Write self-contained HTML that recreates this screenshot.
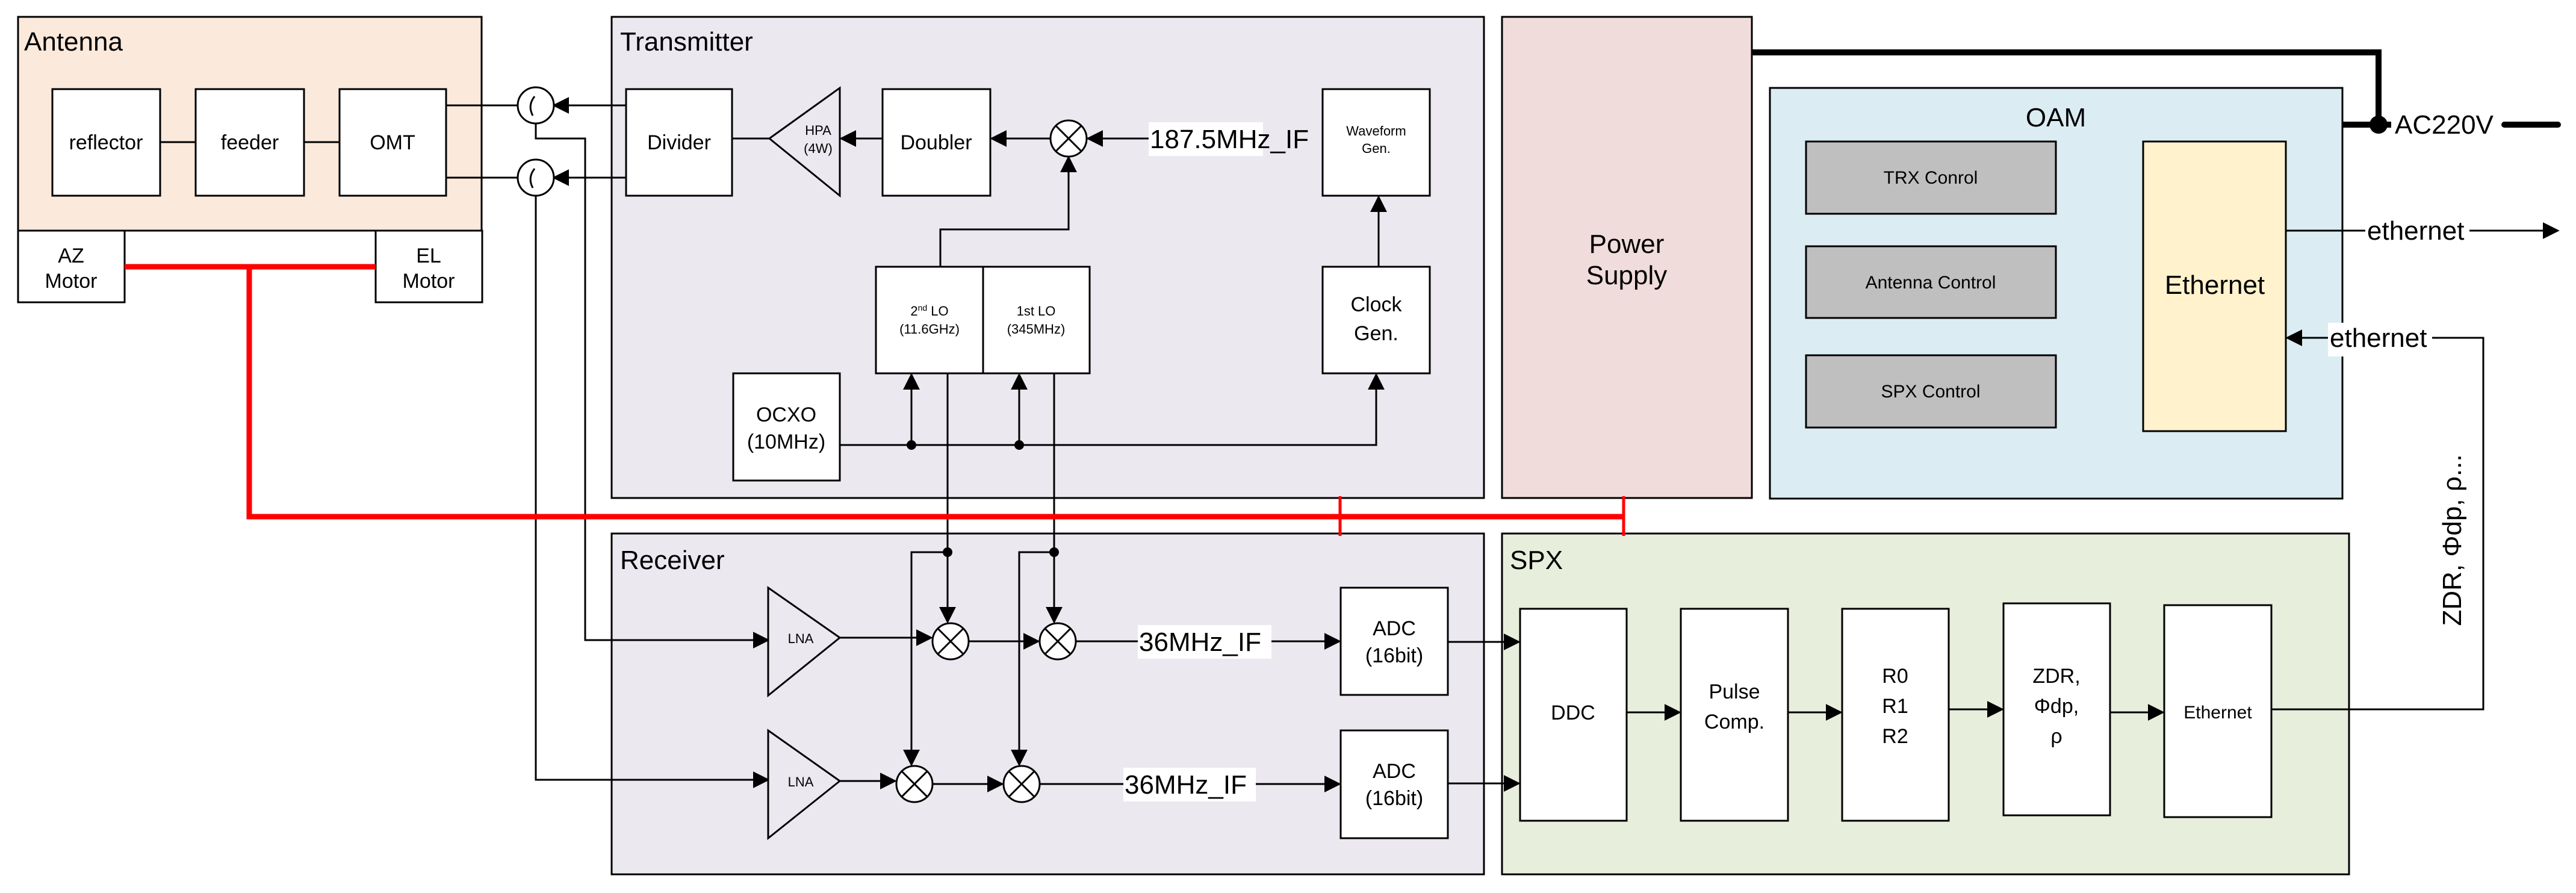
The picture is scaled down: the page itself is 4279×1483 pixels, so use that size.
<!DOCTYPE html>
<html><head><meta charset="utf-8"><style>
html,body{margin:0;padding:0;background:#fff;}
svg{display:block;}
text{font-family:"Liberation Sans",sans-serif;fill:#000;}
</style></head><body>
<svg width="4279" height="1483" viewBox="0 0 4279 1483" xmlns="http://www.w3.org/2000/svg">
<defs>
<marker id="a" viewBox="0 0 10 10" refX="9" refY="5" markerWidth="28" markerHeight="28" markerUnits="userSpaceOnUse" orient="auto"><path d="M0,0 L10,5 L0,10 z" fill="#000"/></marker>
</defs>
<g stroke="#000" stroke-width="3">
<rect x="30" y="28" width="770" height="355" fill="#fbe9dc"/>
<rect x="30" y="383" width="177" height="119" fill="#fff"/>
<rect x="624" y="383" width="177" height="119" fill="#fff"/>
<rect x="1016" y="28" width="1449" height="799" fill="#ebe8f0"/>
<rect x="2495" y="28" width="415" height="799" fill="#f0dcdb"/>
<rect x="2940" y="146" width="951" height="682" fill="#dbedf3"/>
<rect x="1016" y="886" width="1449" height="566" fill="#ebe8f0"/>
<rect x="2495" y="886" width="1407" height="566" fill="#e8eedc"/>
<rect x="87" y="148" width="179" height="177" fill="#fff"/>
<rect x="325" y="148" width="180" height="177" fill="#fff"/>
<rect x="564" y="148" width="177" height="177" fill="#fff"/>
<rect x="1040" y="148" width="176" height="177" fill="#fff"/>
<rect x="1466" y="148" width="179" height="177" fill="#fff"/>
<rect x="2197" y="148" width="178" height="177" fill="#fff"/>
<rect x="2197" y="443" width="178" height="177" fill="#fff"/>
<rect x="1455" y="443" width="178" height="177" fill="#fff"/>
<rect x="1633" y="443" width="177" height="177" fill="#fff"/>
<rect x="1218" y="620" width="177" height="178" fill="#fff"/>
<rect x="2227" y="976" width="178" height="178" fill="#fff"/>
<rect x="2227" y="1213" width="178" height="179" fill="#fff"/>
<rect x="2525" y="1011" width="177" height="352" fill="#fff"/>
<rect x="2792" y="1011" width="178" height="352" fill="#fff"/>
<rect x="3060" y="1011" width="177" height="352" fill="#fff"/>
<rect x="3328" y="1002" width="177" height="352" fill="#fff"/>
<rect x="3595" y="1005" width="178" height="352" fill="#fff"/>
<rect x="3000" y="235" width="415" height="120" fill="#bfbfbf"/>
<rect x="3000" y="409" width="415" height="119" fill="#bfbfbf"/>
<rect x="3000" y="590" width="415" height="120" fill="#bfbfbf"/>
<rect x="3560" y="235" width="237" height="481" fill="#fff2cc"/>
</g>
<g stroke="#000" stroke-width="3" fill="none">
<line x1="266" y1="236" x2="325" y2="236"/>
<line x1="505" y1="236" x2="564" y2="236"/>
<line x1="741" y1="175" x2="860" y2="175"/>
<line x1="741" y1="295" x2="860" y2="295"/>
<line x1="1040" y1="175" x2="920" y2="175" marker-end="url(#a)"/>
<line x1="1040" y1="295" x2="920" y2="295" marker-end="url(#a)"/>
<polyline points="890,205 890,230 972,230 972,1063 1276,1063" marker-end="url(#a)"/>
<polyline points="890,325 890,1295 1276,1295" marker-end="url(#a)"/>
<line x1="1216" y1="230" x2="1278" y2="230"/>
<line x1="1466" y1="230" x2="1397" y2="230" marker-end="url(#a)"/>
<line x1="1745" y1="230" x2="1647" y2="230" marker-end="url(#a)"/>
<line x1="1908" y1="230" x2="1807" y2="230" marker-end="url(#a)"/>
<polyline points="1562,443 1562,381 1775,381 1775,261" marker-end="url(#a)"/>
<line x1="2290" y1="443" x2="2290" y2="327" marker-end="url(#a)"/>
<polyline points="1395,739 2286,739 2286,622" marker-end="url(#a)"/>
<line x1="1514" y1="739" x2="1514" y2="622" marker-end="url(#a)"/>
<line x1="1693" y1="739" x2="1693" y2="622" marker-end="url(#a)"/>
<line x1="1574" y1="620" x2="1574" y2="1033" marker-end="url(#a)"/>
<line x1="1751" y1="620" x2="1751" y2="1033" marker-end="url(#a)"/>
<polyline points="1574,917 1514,917 1514,1270" marker-end="url(#a)"/>
<polyline points="1751,917 1693,917 1693,1270" marker-end="url(#a)"/>
<line x1="1395" y1="1059" x2="1547" y2="1059" marker-end="url(#a)"/>
<line x1="1609" y1="1065" x2="1725" y2="1065" marker-end="url(#a)"/>
<line x1="1787" y1="1065" x2="2225" y2="1065" marker-end="url(#a)"/>
<line x1="1395" y1="1297" x2="1487" y2="1297" marker-end="url(#a)"/>
<line x1="1549" y1="1302" x2="1665" y2="1302" marker-end="url(#a)"/>
<line x1="1727" y1="1302" x2="2225" y2="1302" marker-end="url(#a)"/>
<line x1="2405" y1="1066" x2="2523" y2="1066" marker-end="url(#a)"/>
<line x1="2405" y1="1301" x2="2523" y2="1301" marker-end="url(#a)"/>
<line x1="2702" y1="1183" x2="2790" y2="1183" marker-end="url(#a)"/>
<line x1="2970" y1="1183" x2="3058" y2="1183" marker-end="url(#a)"/>
<line x1="3237" y1="1178" x2="3326" y2="1178" marker-end="url(#a)"/>
<line x1="3505" y1="1183" x2="3593" y2="1183" marker-end="url(#a)"/>
<polyline points="3773,1178 4125,1178 4125,561 3799,561" marker-end="url(#a)"/>
<line x1="3797" y1="383" x2="4249" y2="383" marker-end="url(#a)"/>
</g>
<g stroke="#000" stroke-width="3" fill="#fff">
<circle cx="890" cy="175" r="30"/><circle cx="890" cy="295" r="30"/>
</g>
<path d="M888,160 Q876,175 885,192 M888,280 Q876,295 885,312" stroke="#000" stroke-width="3" fill="none"/>
<g stroke="#000" stroke-width="3" fill="#ebe8f0">
<polygon points="1395,146 1395,325 1278,230"/>
<polygon points="1276,976 1276,1155 1395,1059"/>
<polygon points="1276,1213 1276,1392 1395,1297"/>
</g>
<g stroke="#000" stroke-width="3" fill="#fff">
<g transform="translate(1775,230)"><circle r="30"/><path d="M-21,-21L21,21M-21,21L21,-21"/></g>
<g transform="translate(1579,1065)"><circle r="30"/><path d="M-21,-21L21,21M-21,21L21,-21"/></g>
<g transform="translate(1757,1065)"><circle r="30"/><path d="M-21,-21L21,21M-21,21L21,-21"/></g>
<g transform="translate(1519,1302)"><circle r="30"/><path d="M-21,-21L21,21M-21,21L21,-21"/></g>
<g transform="translate(1697,1302)"><circle r="30"/><path d="M-21,-21L21,21M-21,21L21,-21"/></g>
</g>
<g fill="#000">
<circle cx="1514" cy="739" r="8"/><circle cx="1693" cy="739" r="8"/>
<circle cx="1574" cy="917" r="8"/><circle cx="1751" cy="917" r="8"/>
</g>
<g stroke="#f00" stroke-width="9" fill="none">
<line x1="207" y1="443" x2="624" y2="443"/>
<polyline points="414,443 414,858 2697,858"/>
</g>
<g stroke="#f00" stroke-width="5">
<line x1="2226" y1="824" x2="2226" y2="890"/>
<line x1="2697" y1="824" x2="2697" y2="890"/>
</g>
<polyline points="2910,87 3951,87 3951,207" stroke="#000" stroke-width="10" fill="none"/>
<line x1="3891" y1="207" x2="3972" y2="207" stroke="#000" stroke-width="10"/>
<line x1="4160" y1="207" x2="4249" y2="207" stroke="#000" stroke-width="10" stroke-linecap="round"/>
<circle cx="3951" cy="207" r="15" fill="#000"/>
<g fill="#fff">
<rect x="1908" y="203" width="190" height="56"/>
<rect x="1890" y="1038" width="222" height="56"/>
<rect x="1866" y="1275" width="220" height="56"/>
<rect x="3929" y="358" width="173" height="56"/>
<rect x="3867" y="536" width="173" height="56"/>
</g>
<g font-size="44">
<text x="40" y="84">Antenna</text>
<text x="1030" y="84">Transmitter</text>
<text x="1030" y="945">Receiver</text>
<text x="2508" y="945">SPX</text>
<text x="3415" y="210" text-anchor="middle">OAM</text>
<text x="2702" y="420" text-anchor="middle">Power</text>
<text x="2702" y="472" text-anchor="middle">Supply</text>
<text x="3679" y="488" text-anchor="middle">Ethernet</text>
<text x="1910" y="246">187.5MHz_IF</text>
<text x="1892" y="1081">36MHz_IF</text>
<text x="1868" y="1318">36MHz_IF</text>
<text x="3978" y="222">AC220V</text>
<text x="3932" y="398">ethernet</text>
<text x="3870" y="576">ethernet</text>
<text transform="translate(4088,897) rotate(-90)" text-anchor="middle">ZDR, Φdp, ρ...</text>
</g>
<g font-size="34" text-anchor="middle">
<text x="176" y="248">reflector</text>
<text x="415" y="248">feeder</text>
<text x="652" y="248">OMT</text>
<text x="118" y="436">AZ</text><text x="118" y="478">Motor</text>
<text x="712" y="436">EL</text><text x="712" y="478">Motor</text>
<text x="1128" y="248">Divider</text>
<text x="1555" y="248">Doubler</text>
<text x="2286" y="517">Clock</text><text x="2286" y="565">Gen.</text>
<text x="1306" y="700">OCXO</text><text x="1306" y="745">(10MHz)</text>
<text x="2316" y="1055">ADC</text><text x="2316" y="1100">(16bit)</text>
<text x="2316" y="1292">ADC</text><text x="2316" y="1337">(16bit)</text>
<text x="2613" y="1195">DDC</text>
<text x="2881" y="1160">Pulse</text><text x="2881" y="1210">Comp.</text>
<text x="3148" y="1134">R0</text><text x="3148" y="1184">R1</text><text x="3148" y="1234">R2</text>
<text x="3416" y="1134">ZDR,</text><text x="3416" y="1184">Φdp,</text><text x="3416" y="1234">ρ</text>
<text x="3684" y="1193" font-size="30">Ethernet</text>
</g>
<g font-size="30" text-anchor="middle">
<text x="3207" y="305">TRX Conrol</text>
<text x="3207" y="479">Antenna Control</text>
<text x="3207" y="660">SPX Control</text>
</g>
<g font-size="22" text-anchor="middle">
<text x="1359" y="224">HPA</text><text x="1359" y="254">(4W)</text>
<text x="2286" y="225">Waveform</text><text x="2286" y="254">Gen.</text>
<text x="1544" y="524">2<tspan font-size="14" dy="-8">nd</tspan><tspan dy="8"> LO</tspan></text>
<text x="1544" y="554">(11.6GHz)</text>
<text x="1721" y="524">1st LO</text><text x="1721" y="554">(345MHz)</text>
<text x="1330" y="1068">LNA</text>
<text x="1330" y="1306">LNA</text>
</g>
</svg>
</body></html>
